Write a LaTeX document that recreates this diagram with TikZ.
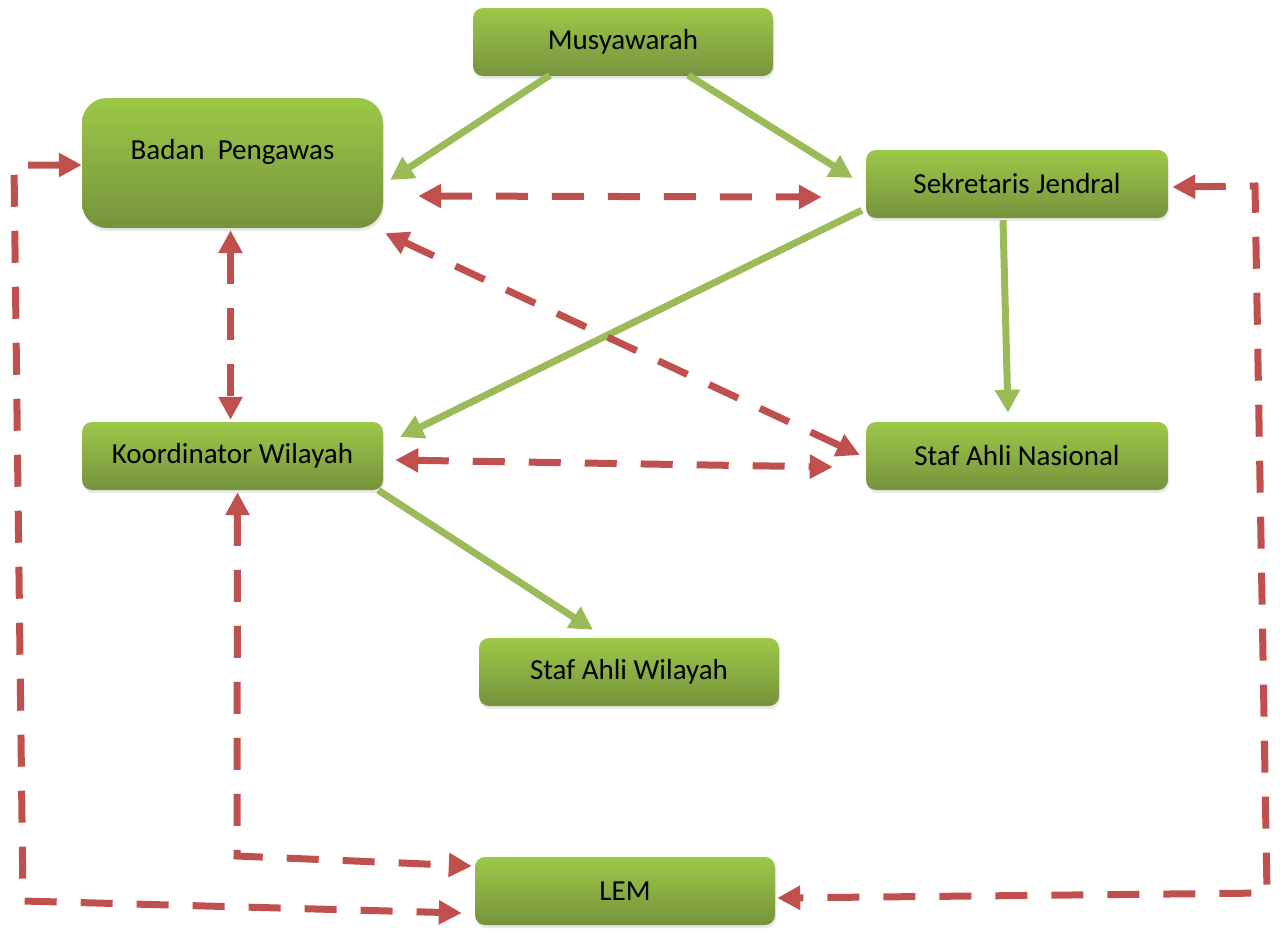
\documentclass[tikz,border=0pt]{standalone}
\usepackage{fontspec}
\setmainfont{Carlito}
\usetikzlibrary{arrows.meta,shadows}
\definecolor{redarr}{HTML}{C0504D}
\definecolor{greenarr}{HTML}{9BBB59}
\definecolor{boxtop}{RGB}{157,200,72}
\definecolor{boxbot}{RGB}{118,147,60}
\begin{document}
\begin{tikzpicture}[x=1pt,y=-1pt,
 box/.style={rectangle, rounded corners=10pt, minimum width=300pt, minimum height=68pt, inner sep=0pt,
   top color=boxtop, bottom color=boxbot, draw=none, font=\fontsize{29}{34}\selectfont,
   drop shadow={opacity=0.18, shadow xshift=1pt, shadow yshift=-3pt}},
 garrow/.style={draw=greenarr, line width=7pt, -{Triangle[length=23pt,width=24pt]}},
 rarrow/.style={draw=redarr, line width=7pt, dash pattern=on 32pt off 24pt,
   {Triangle[length=23pt,width=23pt]}-{Triangle[length=23pt,width=23pt]}},
]
\useasboundingbox (0,0) rectangle (1280,932);

\node[box] (mus) at (623,42) {Musyawarah};
\node[box, minimum width=301pt, minimum height=130pt, rounded corners=25pt] (bp) at (232.5,163) {\raisebox{11pt}[\height][\depth]{Badan\ \ Pengawas}};
\node[box, minimum width=302pt] (sj) at (1017,184) {Sekretaris Jendral};
\node[box, minimum width=301pt] (kw) at (232.5,456) {Koordinator Wilayah};
\node[box, minimum width=302pt] (san) at (1017,456) {Staf Ahli Nasional};
\node[box] (saw) at (629,672) {Staf Ahli Wilayah};
\node[box] (lem) at (625,891) {LEM};

% green arrows
\draw[garrow] ([xshift=77pt,yshift=1pt]mus.south west) -- ([xshift=7pt,yshift=-17pt]bp.east);
\draw[garrow] ([xshift=-85pt,yshift=1pt]mus.south east) -- ([xshift=-13pt,yshift=6pt]sj.west);
\draw[garrow] ([xshift=-4pt,yshift=8pt]sj.south west) -- ([xshift=17pt,yshift=19pt]kw.east);
\draw[garrow] ([xshift=-14pt,yshift=-2pt]sj.south) -- ([xshift=-9pt,yshift=9pt]san.north);
\draw[garrow] ([xshift=-5pt]kw.south east) -- ([xshift=-36pt,yshift=8pt]saw.north);

% red dashed arrows
\draw[rarrow] ([xshift=35pt,yshift=-33pt]bp.east) -- ([xshift=-44pt,yshift=-13pt]sj.west);
\draw[rarrow] ([xshift=2pt,yshift=-5pt]bp.south east) -- ([xshift=-6pt,yshift=1pt]san.west);
\draw[rarrow] ([xshift=-2pt,yshift=-2pt]bp.south) -- ([xshift=-2pt,yshift=2pt]kw.north);
\draw[rarrow] ([xshift=12pt,yshift=-4pt]kw.east) -- ([xshift=-33pt,yshift=-11pt]san.west);

\coordinate (kwc) at (237,856);
\draw[rarrow] ([xshift=5pt,yshift=-2pt]kw.south) -- (kwc) -- ([xshift=-3pt,yshift=25pt]lem.west);

\coordinate (lt) at (14,165);
\coordinate (lb) at (23,901);
\draw[rarrow] ([yshift=-2pt]bp.west) -- (lt) -- (lb) -- ([xshift=-13pt,yshift=-22pt]lem.west);

\coordinate (rt) at (1255,186);
\coordinate (rb) at (1267,893);
\draw[rarrow] ([xshift=4pt,yshift=-3pt]sj.east) -- (rt) -- (rb) -- ([xshift=2pt,yshift=-7pt]lem.east);
\end{tikzpicture}
\end{document}
